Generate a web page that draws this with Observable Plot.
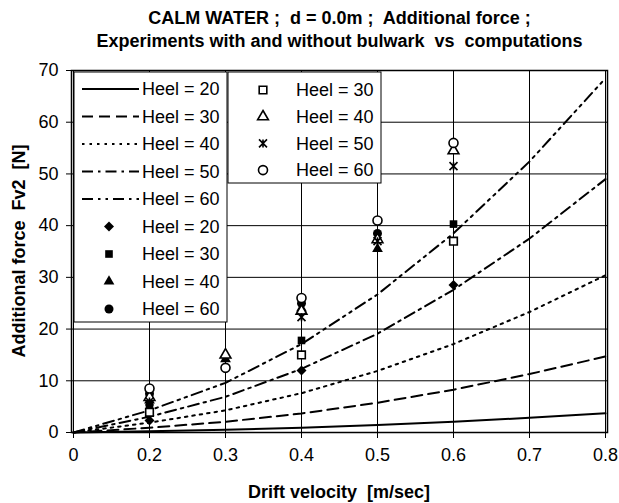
<!DOCTYPE html>
<html>
<head>
<meta charset="utf-8">
<script src="https://cdn.jsdelivr.net/npm/d3@7"></script>
<script src="https://cdn.jsdelivr.net/npm/@observablehq/plot@0.6"></script>
<style>
  html, body { margin: 0; padding: 0; background: white; }
  #title {
    box-sizing: border-box; width: 619px; height: 52px; padding: 7px 0 0 60px;
    text-align: center; font: bold 18px "Liberation Sans", Arial, sans-serif; line-height: 23px; color: black;
    white-space: pre;
  }
</style>
</head>
<body>
<div id="title"></div>
<div id="chart"></div>
<script>
// ---- data ----
const titleLines = ["CALM WATER ;  d = 0.0m ;  Additional force ;", "Experiments with and without bulwark  vs  computations"];
const xLabel = "Drift velocity  [m/sec]";
const yLabel = "Additional force  Fv2  [N]";
const cats = ["0", "0.2", "0.3", "0.4", "0.5", "0.6", "0.7", "0.8"];
const yTicks = [0, 10, 20, 30, 40, 50, 60, 70];

// computations (lines)
const calc20 = [0, 0.23, 0.52, 0.93, 1.45, 2.09, 2.84, 3.7];
const calc30 = [0, 0.92, 2.07, 3.68, 5.75, 8.28, 11.3, 14.7];
const calc40 = [0, 1.9, 4.28, 7.6, 11.9, 17.1, 23.3, 30.4];
const calc50 = [0, 3.06, 6.9, 12.3, 19.1, 27.6, 37.5, 49];
const calc60 = [0, 4.28, 9.6, 17.1, 26.7, 38.5, 52.4, 68.5];

// experiments
const expCats = ["0.2", "0.3", "0.4", "0.5", "0.6"];
const fill20 = [2.3, null, 12, null, 28.5];     // filled diamond
const fill30 = [5.2, null, 17.8, null, 40.3];   // filled square
const fill40 = [6.2, 14.2, 24, 35.5, null];     // filled triangle
const fill60 = [7.5, null, 25, 38.5, null];     // filled circle
const open30 = [3.9, null, 15, null, 37];       // open square
const open40 = [6.8, 15, 23.5, 37.3, 54.5];     // open triangle
const open50 = [6, null, 22.3, 37, 51.5];       // star
const open60 = [8.5, 12.5, 26, 41, 56];         // open circle

// ---- styles ----
const font = "'Liberation Sans', Arial, sans-serif";
const star = {
  draw(ctx, size) {
    const r = Math.sqrt(size) / 2;
    ctx.moveTo(-r, -r); ctx.lineTo(r, r);
    ctx.moveTo(-r, r); ctx.lineTo(r, -r);
    ctx.moveTo(0, -r); ctx.lineTo(0, r);
  }
};
const lineSeries = [
  {name: "Heel = 20", vals: calc20, dash: null},
  {name: "Heel = 30", vals: calc30, dash: "11,6"},
  {name: "Heel = 40", vals: calc40, dash: "2.5,5"},
  {name: "Heel = 50", vals: calc50, dash: "11,5,2.5,5"},
  {name: "Heel = 60", vals: calc60, dash: "11,5,2.5,5,2.5,5"}
];
const filledSeries = [
  {name: "Heel = 20", vals: fill20, sym: d3.symbolDiamond2, r: 4.5},
  {name: "Heel = 30", vals: fill30, sym: d3.symbolSquare, r: 4.3},
  {name: "Heel = 40", vals: fill40, sym: d3.symbolTriangle, r: 4},
  {name: "Heel = 60", vals: fill60, sym: d3.symbolCircle, r: 4.5}
];
const openSeries = [
  {name: "Heel = 30", vals: open30, sym: d3.symbolSquare, r: 4.3, star: false},
  {name: "Heel = 40", vals: open40, sym: d3.symbolTriangle, r: 4, star: false},
  {name: "Heel = 50", vals: open50, sym: star, r: 4.5, star: true},
  {name: "Heel = 60", vals: open60, sym: d3.symbolCircle, r: 4.5, star: false}
];

document.getElementById("title").textContent = titleLines.join("\n");

const toRows = (xs, vals) => xs.map((x, i) => ({x, y: vals[i]})).filter(d => d.y != null);

const pageOff = 52;
const W = 619, H = 503 - pageOff;
const M = {left: 71, right: 12, top: 70 - pageOff, bottom: 503 - 432};

const marks = [
  Plot.gridY(yTicks, {stroke: "black", strokeOpacity: 1, strokeWidth: 1}),
  Plot.gridX(cats, {stroke: "black", strokeOpacity: 1, strokeWidth: 1}),
  Plot.axisY(yTicks, {tickSize: 5, tickPadding: 8, fontSize: 18, label: null}),
  Plot.axisX(cats, {tickSize: 6, tickPadding: 10, fontSize: 18, label: null}),
  ...lineSeries.map(s => Plot.line(toRows(cats, s.vals), {x: "x", y: "y", stroke: "black", strokeWidth: 2, strokeDasharray: s.dash})),
  Plot.frame({stroke: "black", strokeWidth: 1.5})
];

const chart = Plot.plot({
  width: W, height: H,
  marginLeft: M.left, marginRight: M.right, marginTop: M.top, marginBottom: M.bottom,
  style: {fontFamily: font, fontSize: "18px", color: "black", background: "white"},
  x: {type: "point", domain: cats, padding: 0},
  y: {domain: [0, 70]},
  marks
});

const svg = d3.select(chart);

// axis titles
svg.append("text").attr("transform", `translate(19,${251 - pageOff}) rotate(-90)`)
  .attr("text-anchor", "middle").attr("dy", "0.35em")
  .attr("font-family", font).attr("font-size", 18).attr("font-weight", "bold")
  .style("white-space", "pre").text(yLabel);
svg.append("text").attr("x", 339).attr("y", 492 - pageOff)
  .attr("text-anchor", "middle").attr("dy", "0.35em")
  .attr("font-family", font).attr("font-size", 18).attr("font-weight", "bold")
  .style("white-space", "pre").text(xLabel);

// ---- legends ----
const lg = svg.append("g").attr("font-family", font).attr("font-size", 18).attr("text-anchor", "start");
lg.append("rect").attr("x", 74).attr("y", 72 - pageOff).attr("width", 153).attr("height", 250)
  .attr("fill", "white").attr("stroke", "black").attr("stroke-width", 1);
lg.append("rect").attr("x", 228).attr("y", 72 - pageOff).attr("width", 153).attr("height", 111)
  .attr("fill", "white").attr("stroke", "black").attr("stroke-width", 1);
const rowY = i => 89 + i * 27.5 - pageOff;
lineSeries.forEach((s, i) => {
  const y = rowY(i);
  lg.append("line").attr("x1", 82).attr("x2", 139).attr("y1", y).attr("y2", y)
    .attr("stroke", "black").attr("stroke-width", 2).attr("stroke-dasharray", s.dash);
  lg.append("text").attr("x", 142).attr("y", y).attr("dy", "0.35em").text(s.name);
});
filledSeries.forEach((s, j) => {
  const y = rowY(j + 5);
  lg.append("path").attr("transform", `translate(109,${y})`)
    .attr("d", d3.symbol(s.sym, s.r * s.r * Math.PI)()).attr("fill", "black");
  lg.append("text").attr("x", 142).attr("y", y).attr("dy", "0.35em").text(s.name);
});
openSeries.forEach((s, j) => {
  const y = 90 + j * 26.7 - pageOff;
  lg.append("path").attr("transform", `translate(263,${y})`)
    .attr("d", d3.symbol(s.sym, s.r * s.r * Math.PI)())
    .attr("fill", s.star ? "none" : "white").attr("stroke", "black").attr("stroke-width", 1.6);
  lg.append("text").attr("x", 296).attr("y", y).attr("dy", "0.35em").text(s.name);
});

// ---- dots drawn on top ----
const dotPlot = Plot.plot({
  width: W, height: H,
  marginLeft: M.left, marginRight: M.right, marginTop: M.top, marginBottom: M.bottom,
  x: {type: "point", domain: cats, padding: 0, axis: null},
  y: {domain: [0, 70], axis: null},
  marks: [
    ...filledSeries.map(s => Plot.dot(toRows(expCats, s.vals), {x: "x", y: "y", symbol: s.sym, r: s.r, fill: "black", stroke: "none"})),
    ...openSeries.map(s => Plot.dot(toRows(expCats, s.vals), {x: "x", y: "y", symbol: s.sym, r: s.r, fill: s.star ? "none" : "white", stroke: "black", strokeWidth: 1.6}))
  ]
});
d3.select(dotPlot).selectAll(":scope > g").each(function() { chart.appendChild(this); });

document.getElementById("chart").appendChild(chart);
</script>
</body>
</html>
